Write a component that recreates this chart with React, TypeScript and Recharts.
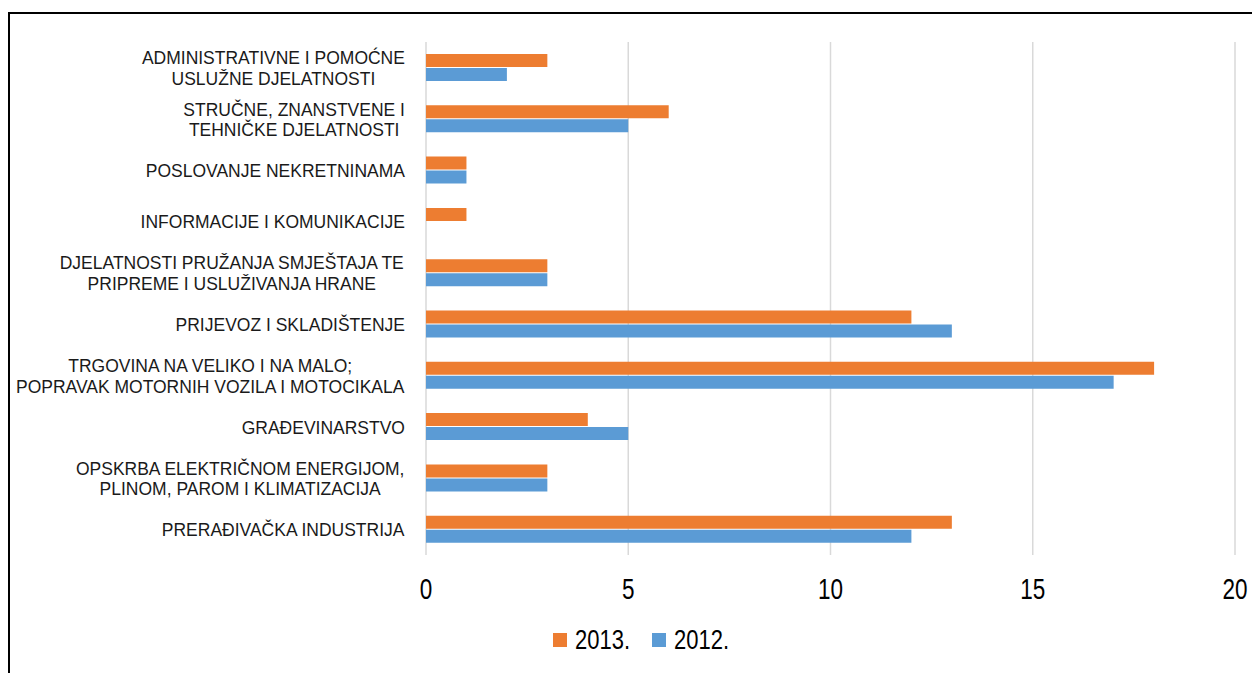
import React from "react";
import { BarChart, Bar, XAxis, YAxis, CartesianGrid, Legend } from "recharts";

const categories = [
  "ADMINISTRATIVNE I POMOĆNE\nUSLUŽNE DJELATNOSTI",
  "STRUČNE, ZNANSTVENE I\nTEHNIČKE DJELATNOSTI",
  "POSLOVANJE NEKRETNINAMA",
  "INFORMACIJE I KOMUNIKACIJE",
  "DJELATNOSTI PRUŽANJA SMJEŠTAJA TE\nPRIPREME I USLUŽIVANJA HRANE",
  "PRIJEVOZ I SKLADIŠTENJE",
  "TRGOVINA NA VELIKO I NA MALO;\nPOPRAVAK MOTORNIH VOZILA I MOTOCIKALA",
  "GRAĐEVINARSTVO",
  "OPSKRBA ELEKTRIČNOM ENERGIJOM,\nPLINOM, PAROM I KLIMATIZACIJA",
  "PRERAĐIVAČKA INDUSTRIJA",
];
const values2013 = [3, 6, 1, 1, 3, 12, 18, 4, 3, 13];
const values2012 = [2, 5, 1, 0, 3, 13, 17, 5, 3, 12];
const xTicks = [0, 5, 10, 15, 20];

const data = categories.map((name, i) => ({
  name,
  y2013: values2013[i],
  y2012: values2012[i],
}));

const ORANGE = "#ED7D31";
const BLUE = "#5B9BD5";
const FAMILY = "'Liberation Sans', Arial, sans-serif";
const LABEL_FONT = `17.5px ${FAMILY}`;

let ctx: CanvasRenderingContext2D | null = null;
function measure(text: string) {
  if (!ctx) ctx = document.createElement("canvas").getContext("2d");
  if (!ctx) return text.length * 9;
  ctx.font = LABEL_FONT;
  return ctx.measureText(text).width;
}

// category labels: lines centred on each other, block right-aligned to the axis
function CategoryTick(props: any) {
  const { x, y, payload } = props;
  const lines: string[] = String(payload.value).split("\n");
  const maxW = Math.max(...lines.map(measure));
  const cx = x - maxW / 2;
  const lh = 20.5;
  const start = y - ((lines.length - 1) * lh) / 2;
  return (
    <g>
      {lines.map((l, i) => (
        <text
          key={i}
          transform={`translate(${cx},${start + i * lh}) scale(1,1.08)`}
          dy="0.36em"
          textAnchor="middle"
          style={{ font: LABEL_FONT }}
          fill="#1a1a1a"
        >
          {l}
        </text>
      ))}
    </g>
  );
}

// the reference digits are taller than they are wide, so stretch them a bit
function NumberTick(props: any) {
  const { x, y, payload } = props;
  return (
    <text
      transform={`translate(${x},${y + 33.5}) scale(1,1.28)`}
      dy="0.36em"
      textAnchor="middle"
      fontSize={22.5}
      fontFamily={FAMILY}
      fill="#000"
    >
      {payload.value}
    </text>
  );
}

function LegendContent() {
  const items = [
    { label: "2013.", color: ORANGE },
    { label: "2012.", color: BLUE },
  ];
  return (
    <div
      style={{
        display: "flex",
        paddingLeft: 545,
        fontFamily: FAMILY,
        fontSize: 22,
        lineHeight: "28px",
        color: "#000",
      }}
    >
      {items.map((it) => (
        <div key={it.label} style={{ display: "flex", alignItems: "center", marginRight: 22 }}>
          <span style={{ width: 14, height: 14, background: it.color, marginRight: 8 }} />
          <span style={{ display: "inline-block", transform: "scaleY(1.25)" }}>{it.label}</span>
        </div>
      ))}
    </div>
  );
}

export default function App() {
  return (
    <div style={{ position: "relative", width: 1252, height: 673, overflow: "hidden" }}>
      <style>{"html,body{margin:0;overflow:hidden}"}</style>
      <div
        style={{
          position: "absolute",
          top: 12,
          left: 8,
          width: 1244,
          height: 661,
          borderTop: "2px solid #000",
          borderLeft: "2px solid #000",
          boxSizing: "border-box",
        }}
      />
      <div style={{ position: "absolute", top: 8, left: 8 }}>
        <BarChart
          width={1244}
          height={665}
          data={data}
          layout="vertical"
          margin={{ top: 34, right: 17, bottom: 0, left: 0 }}
          barSize={13}
          barGap={1}
        >
          <CartesianGrid horizontal={false} stroke="#d9d9d9" strokeWidth={1.5} />
          <XAxis
            type="number"
            domain={[0, 20]}
            ticks={xTicks}
            axisLine={false}
            tickLine={false}
            tickSize={0}
            tickMargin={0}
            height={118}
            tick={<NumberTick />}
          />
          <YAxis
            type="category"
            dataKey="name"
            width={418}
            axisLine={false}
            tickLine={false}
            tickSize={0}
            tickMargin={21}
            interval={0}
            tick={<CategoryTick />}
          />
          <Legend
            layout="horizontal"
            verticalAlign="middle"
            align="center"
            content={<LegendContent />}
            wrapperStyle={{ top: 618, left: 0, width: 1244 }}
          />
          <Bar dataKey="y2013" name="2013." fill={ORANGE} isAnimationActive={false} />
          <Bar dataKey="y2012" name="2012." fill={BLUE} isAnimationActive={false} />
        </BarChart>
      </div>
    </div>
  );
}
